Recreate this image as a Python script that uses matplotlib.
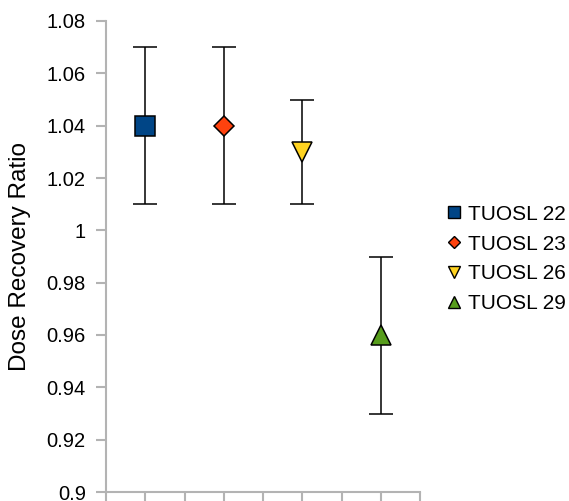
import matplotlib
matplotlib.use('Agg')
import matplotlib.pyplot as plt
from matplotlib.lines import Line2D
import matplotlib.ticker as ticker

plt.rcParams['font.family'] = ['Liberation Sans', 'DejaVu Sans']
plt.rcParams['font.size'] = 14.5

# データ
samples = ['TUOSL 22', 'TUOSL 23', 'TUOSL 26', 'TUOSL 29']
x_pos = [1, 3, 5, 7]
ratio = [1.04, 1.04, 1.03, 0.96]
err_low = [1.01, 1.01, 1.01, 0.93]
err_high = [1.07, 1.07, 1.05, 0.99]
markers = ['s', 'D', 'v', '^']
sizes = [13.7, 9.7, 13.7, 13.7]
colors = ['#004586', '#ff420e', '#ffd320', '#579d1c']

fig = plt.figure(figsize=(5.69, 5.01), dpi=100)
ax = fig.add_axes([106 / 569, 1 - 492 / 501, (420 - 106) / 569, (492 - 21) / 501])

handles = []
for x, y, lo, hi, m, ms, c, name in zip(
        x_pos, ratio, err_low, err_high, markers, sizes, colors, samples):
    ax.errorbar(
        x, y,
        yerr=[[y - lo], [hi - y]],
        fmt='none',
        ecolor='black',
        elinewidth=1.1,
        capsize=8.5,
        capthick=1.1,
        zorder=2,
    )
    ax.plot(
        x, y,
        marker=m,
        markersize=ms,
        markerfacecolor=c,
        markeredgecolor='black',
        markeredgewidth=1.1,
        linestyle='none',
        zorder=3,
    )
    handles.append(Line2D(
        [], [],
        marker=m,
        markersize=ms * 0.68,
        markerfacecolor=c,
        markeredgecolor='black',
        markeredgewidth=1.0,
        linestyle='none',
        label=name,
    ))

ax.set_xlim(0, 8)
ax.set_ylim(0.9, 1.08)
ax.xaxis.set_major_locator(ticker.MultipleLocator(1))
ax.yaxis.set_major_locator(ticker.MultipleLocator(0.02))
ax.yaxis.set_major_formatter(ticker.FuncFormatter(lambda v, p: f'{v:.2f}'.rstrip('0').rstrip('.')))
ax.set_xticklabels([])

for side in ['top', 'right']:
    ax.spines[side].set_visible(False)
for side in ['left', 'bottom']:
    ax.spines[side].set_color('#b3b3b3')
    ax.spines[side].set_linewidth(1.5)

ax.tick_params(axis='y', direction='out', length=7.5, width=1.5, color='#b3b3b3', pad=7)
ax.tick_params(axis='x', direction='out', length=7, width=1.5, color='#b3b3b3')

ax.set_ylabel('Dose Recovery Ratio', fontsize=17.5, labelpad=11)

fig.legend(
    handles=handles,
    loc='center left',
    bbox_to_anchor=(446 / 569, 1 - 259 / 501),
    frameon=False,
    borderpad=0,
    borderaxespad=0,
    handlelength=0.8,
    handletextpad=0.25,
    labelspacing=0.52,
    fontsize=15,
)

fig.savefig('out.png', dpi=100)
